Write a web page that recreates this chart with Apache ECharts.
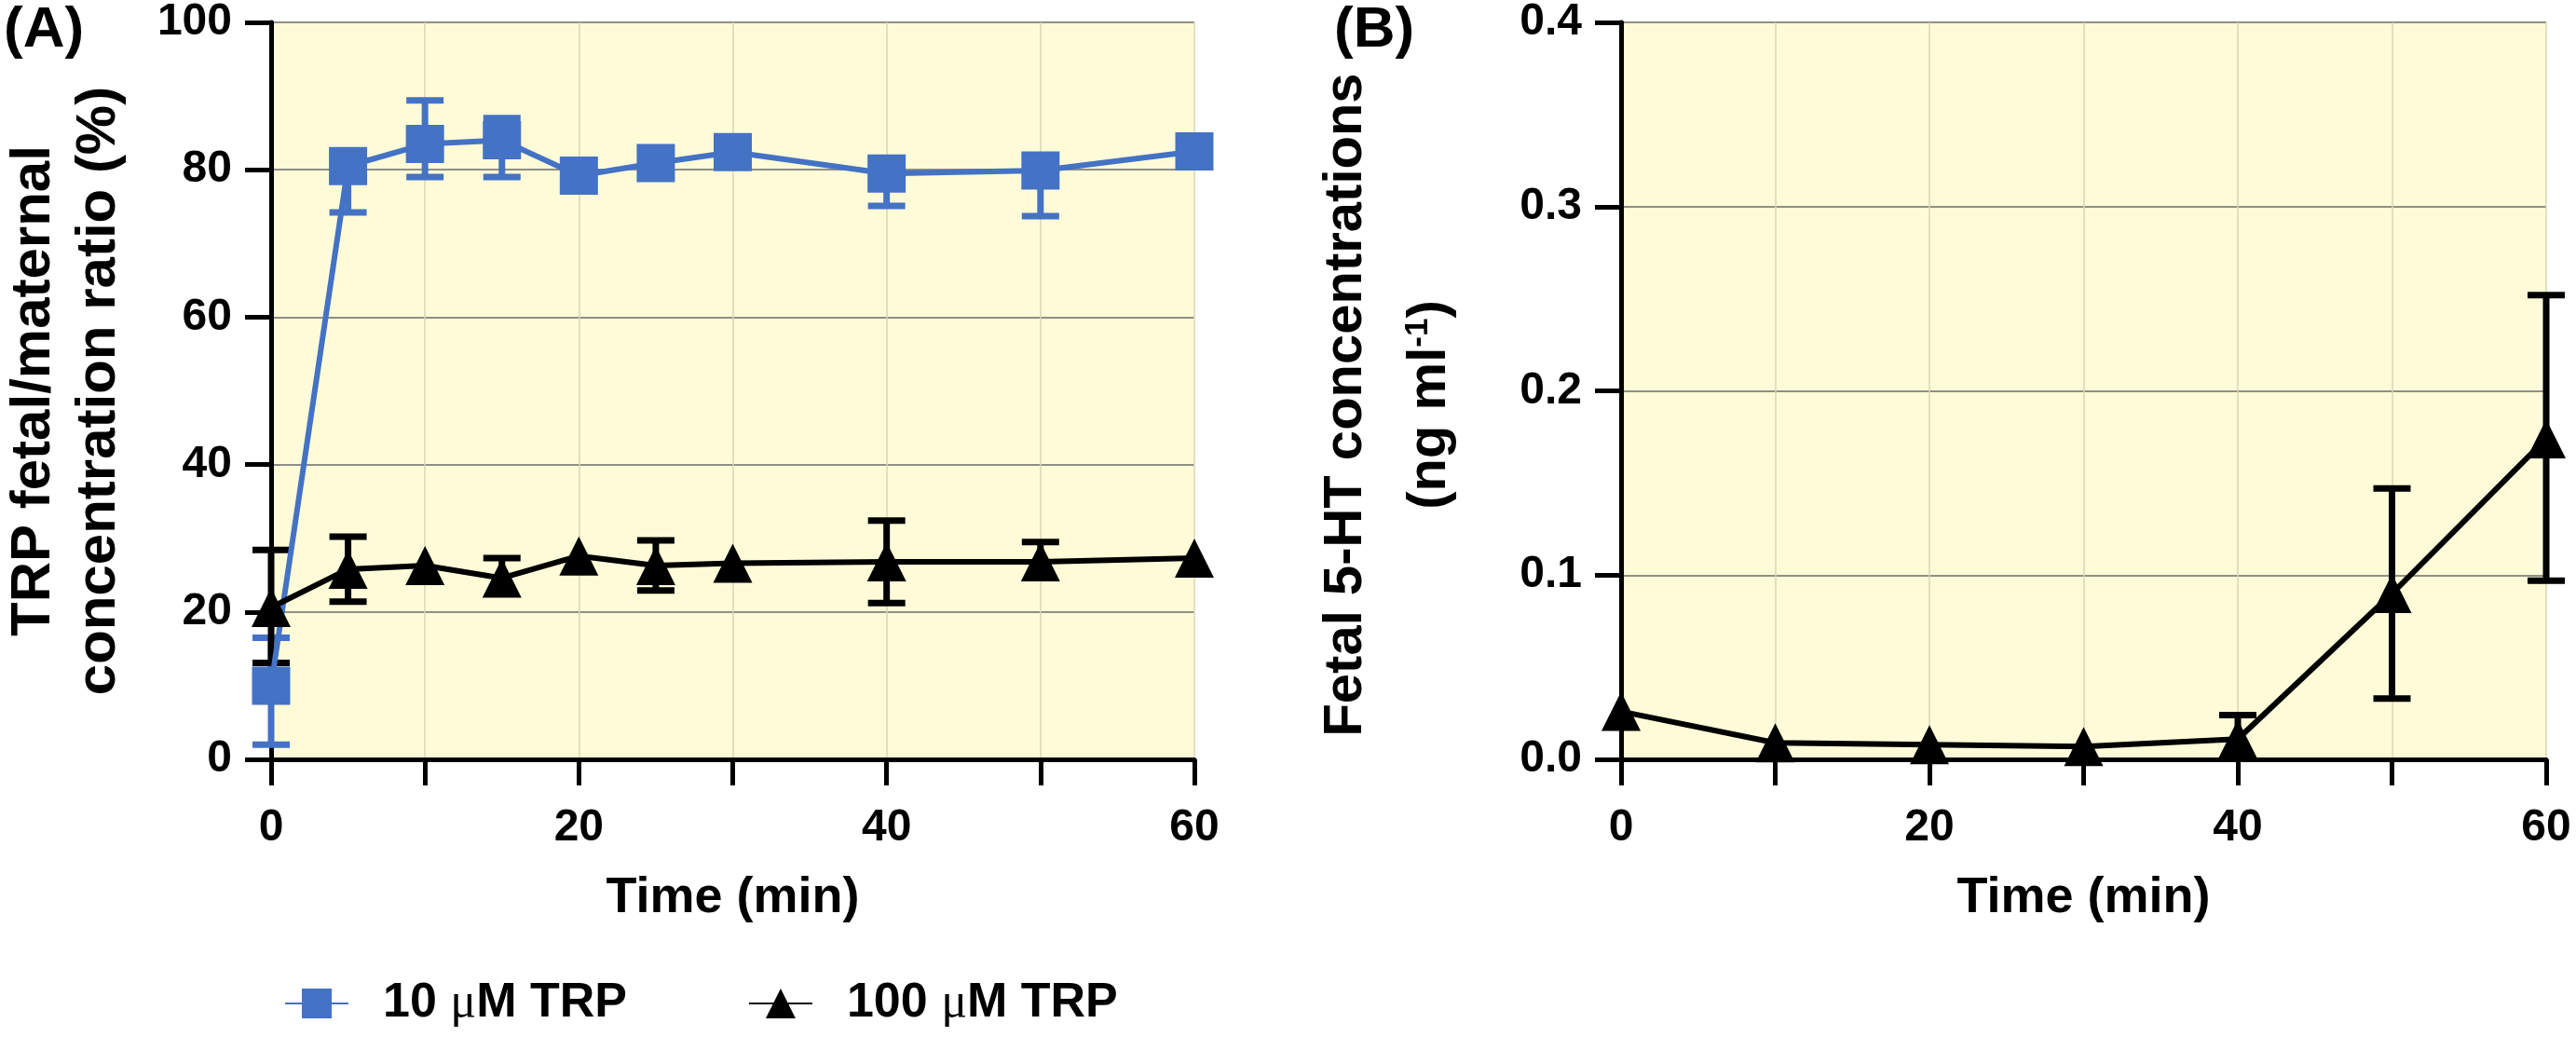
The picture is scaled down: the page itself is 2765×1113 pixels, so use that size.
<!DOCTYPE html>
<html>
<head>
<meta charset="utf-8">
<script src="https://cdn.jsdelivr.net/npm/echarts@6/dist/echarts.min.js"></script>
<style>
html,body{margin:0;padding:0;background:#fff;}
#chart{width:2765px;height:1113px;}
</style>
</head>
<body>
<div id="chart"></div>
<script>
// ---- Panel A data ----
const timesA = [0, 5, 10, 15, 20, 25, 30, 40, 50, 60];
const trp10Mean = [10.0, 80.5, 83.5, 84.0, 79.2, 80.9, 82.4, 79.5, 79.9, 82.5];
const trp10ErrUp = [6.5, 0, 5.9, 3.0, 0, 0, 0, 0, 0, 0];
const trp10ErrDown = [8.0, 6.3, 4.5, 5.0, 0, 0, 0, 4.4, 6.2, 0];
const trp100Mean = [20.6, 25.8, 26.3, 24.6, 27.6, 26.3, 26.6, 26.8, 26.8, 27.3];
const trp100ErrUp = [7.8, 4.4, 0, 2.7, 0, 3.4, 0, 5.6, 2.7, 0];
const trp100ErrDown = [7.5, 4.4, 0, 0, 0, 3.4, 0, 5.6, 0, 0];
// ---- Panel B data ----
const timesB = [0, 10, 20, 30, 40, 50, 60];
const htMean = [0.026, 0.009, 0.008, 0.007, 0.011, 0.090, 0.174];
const htErrUp = [0, 0, 0, 0, 0.013, 0.057, 0.078];
const htErrDown = [0, 0, 0, 0, 0, 0.057, 0.077];
// ---- tick labels ----
const xTickLabels = [0, 20, 40, 60];
const yTicksA = [0, 20, 40, 60, 80, 100];
const yTicksB = ['0.0', '0.1', '0.2', '0.3', '0.4'];

const BLUE = '#4472c4';
const BLACK = '#000000';
const FONT = "'Liberation Sans', Arial, sans-serif";

function pairs(t, m) { return t.map((v, i) => [v, m[i]]); }
function errData(t, m, up, dn) { return t.map((v, i) => [v, m[i], up[i], dn[i]]); }

function errRender(color) {
  return function (params, api) {
    const x = api.value(0), y = api.value(1), up = api.value(2), dn = api.value(3);
    const p = api.coord([x, y]);
    const hw = 20;
    const st = { stroke: color, lineWidth: 7 };
    const ch = [];
    if (up > 0) {
      const q = api.coord([x, y + up]);
      ch.push({ type: 'line', shape: { x1: p[0], y1: p[1], x2: q[0], y2: q[1] }, style: st });
      ch.push({ type: 'line', shape: { x1: q[0] - hw, y1: q[1], x2: q[0] + hw, y2: q[1] }, style: st });
    }
    if (dn > 0) {
      const q = api.coord([x, y - dn]);
      ch.push({ type: 'line', shape: { x1: p[0], y1: p[1], x2: q[0], y2: q[1] }, style: st });
      ch.push({ type: 'line', shape: { x1: q[0] - hw, y1: q[1], x2: q[0] + hw, y2: q[1] }, style: st });
    }
    return { type: 'group', children: ch };
  };
}

function xAxisCfg(gridIndex) {
  return {
    type: 'value', gridIndex, min: 0, max: 60, interval: 10,
    name: 'Time (min)', nameLocation: 'middle', nameGap: 122,
    nameTextStyle: { fontFamily: FONT, fontWeight: 'bold', fontSize: 54, color: '#000' },
    axisLine: { show: true, onZero: false, lineStyle: { color: '#000', width: 5 } },
    axisTick: { show: true, inside: false, length: 28, lineStyle: { color: '#000', width: 5 } },
    axisLabel: {
      margin: 50, fontFamily: FONT, fontWeight: 'bold', fontSize: 48, color: '#000',
      formatter: v => (xTickLabels.indexOf(v) >= 0 ? String(v) : '')
    },
    splitLine: { show: true, lineStyle: { color: '#d9d6b4', width: 1.5 } }
  };
}

const chart = echarts.init(document.getElementById('chart'));
const option = {
  backgroundColor: '#ffffff',
  animation: false,
  grid: [
    { left: 284, top: 19, width: 998, height: 796, show: true, backgroundColor: '#fefcd8', borderWidth: 0 },
    { left: 1740, top: 19, width: 993, height: 796, show: true, backgroundColor: '#fefcd8', borderWidth: 0 }
  ],
  xAxis: [xAxisCfg(0), xAxisCfg(1)],
  yAxis: [
    {
      type: 'value', gridIndex: 0, min: 0, max: 100, interval: 20,
      name: 'TRP fetal/maternal\nconcentration ratio (%)', nameLocation: 'middle', nameRotate: 90, nameGap: 150,
      nameTextStyle: { fontFamily: FONT, fontWeight: 'bold', fontSize: 60, color: '#000', lineHeight: 70 },
      axisLine: { show: true, lineStyle: { color: '#000', width: 5 } },
      axisTick: { show: true, inside: false, length: 28, lineStyle: { color: '#000', width: 5 } },
      axisLabel: { margin: 42, fontFamily: FONT, fontWeight: 'bold', fontSize: 48, color: '#000',
        formatter: v => (yTicksA.indexOf(v) >= 0 ? String(v) : '') },
      splitLine: { show: true, lineStyle: { color: '#8f8e86', width: 2 } }
    },
    {
      type: 'value', gridIndex: 1, min: 0, max: 0.4, interval: 0.1,
      name: 'Fetal 5-HT concentrations\n(ng ml{sup|-1})', nameLocation: 'middle', nameRotate: 90, nameGap: 160,
      nameTextStyle: { fontFamily: FONT, fontWeight: 'bold', fontSize: 58, color: '#000', lineHeight: 90,
        padding: [0, 30, 0, 0],
        rich: { sup: { fontFamily: FONT, fontWeight: 'bold', fontSize: 35, color: '#000', lineHeight: 90, padding: [0, 0, 26, 0] } } },
      axisLine: { show: true, lineStyle: { color: '#000', width: 5 } },
      axisTick: { show: true, inside: false, length: 28, lineStyle: { color: '#000', width: 5 } },
      axisLabel: { margin: 42, fontFamily: FONT, fontWeight: 'bold', fontSize: 48, color: '#000',
        formatter: v => yTicksB[Math.round(v * 10)] },
      splitLine: { show: true, lineStyle: { color: '#8f8e86', width: 2 } }
    }
  ],
  legend: {
    data: ['10 μM TRP', '100 μM TRP'],
    left: 300, top: 1046, itemWidth: 68, itemHeight: 40, itemGap: 130,
    formatter: n => n.replace('μ', '{mu|μ}'),
    textStyle: {
      fontFamily: FONT, fontWeight: 'bold', fontSize: 52, color: '#000', padding: [0, 0, 0, 32],
      rich: { mu: { fontFamily: "'Liberation Serif', serif", fontWeight: 'normal', fontSize: 52, color: '#000' } }
    }
  },
  graphic: [
    { type: 'text', left: 4, top: 2, style: { text: '(A)', font: "bold 62px 'Liberation Sans', Arial", fill: '#000' } },
    { type: 'text', left: 1432, top: 2, style: { text: '(B)', font: "bold 62px 'Liberation Sans', Arial", fill: '#000' } }
  ],
  series: [
    {
      type: 'custom', name: 'err10', xAxisIndex: 0, yAxisIndex: 0, z: 2,
      renderItem: errRender(BLUE), data: errData(timesA, trp10Mean, trp10ErrUp, trp10ErrDown), silent: true
    },
    {
      type: 'custom', name: 'err100', xAxisIndex: 0, yAxisIndex: 0, z: 3,
      renderItem: errRender(BLACK), data: errData(timesA, trp100Mean, trp100ErrUp, trp100ErrDown), silent: true
    },
    {
      type: 'line', name: '10 μM TRP', xAxisIndex: 0, yAxisIndex: 0, z: 4,
      data: pairs(timesA, trp10Mean), symbol: 'rect', symbolSize: 41,
      lineStyle: { color: BLUE, width: 6 }, itemStyle: { color: BLUE }
    },
    {
      type: 'line', name: '100 μM TRP', xAxisIndex: 0, yAxisIndex: 0, z: 5,
      data: pairs(timesA, trp100Mean), symbol: 'triangle', symbolSize: 42,
      lineStyle: { color: BLACK, width: 6 }, itemStyle: { color: BLACK }
    },
    {
      type: 'custom', name: 'errB', xAxisIndex: 1, yAxisIndex: 1, z: 2,
      renderItem: errRender(BLACK), data: errData(timesB, htMean, htErrUp, htErrDown), silent: true
    },
    {
      type: 'line', name: 'Fetal 5-HT', xAxisIndex: 1, yAxisIndex: 1, z: 3,
      data: pairs(timesB, htMean), symbol: 'triangle', symbolSize: 42,
      lineStyle: { color: BLACK, width: 6 }, itemStyle: { color: BLACK }
    }
  ]
};
chart.setOption(option);
</script>
</body>
</html>
